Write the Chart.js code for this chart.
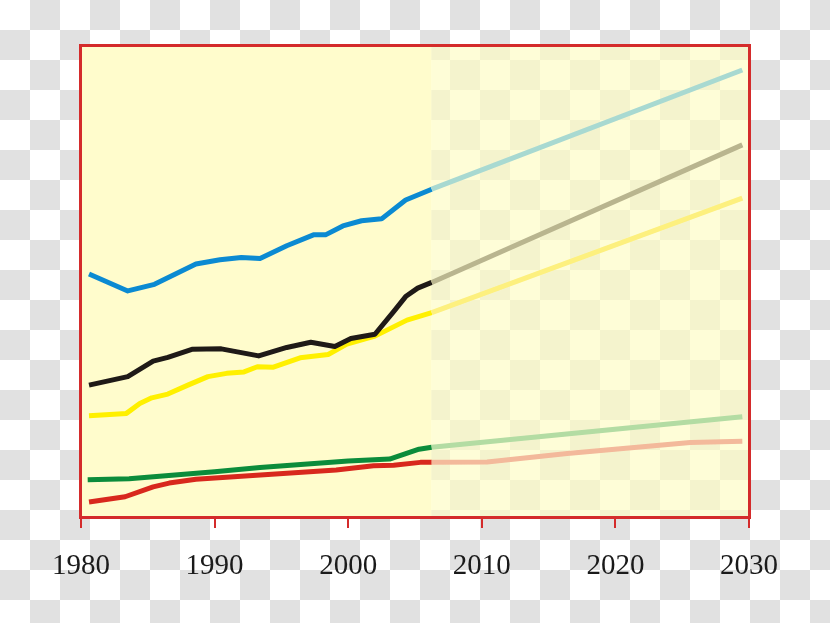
<!DOCTYPE html>
<html>
<head>
<meta charset="utf-8">
<script src="https://cdn.jsdelivr.net/npm/chart.js@4.4.1/dist/chart.umd.min.js"></script>
<style>
  html, body { margin: 0; padding: 0; }
  body {
    width: 830px; height: 623px; overflow: hidden;
    background: repeating-conic-gradient(#e1e1e1 0% 25%, #ffffff 0% 50%) 0 0 / 60px 60px;
  }
  #wrap { position: relative; width: 830px; height: 623px; }
</style>
</head>
<body>
<div id="wrap"><canvas id="c"></canvas></div>
<script>
// ---- data (index values, 0-100 scale; x = year) ----
const xTicks = [1980, 1990, 2000, 2010, 2020, 2030];
const splitYear = 2006.25;

const blueYears  = [1980.6, 1983.5, 1985.5, 1988.6, 1990.4, 1992.0, 1993.4, 1995.4, 1997.4, 1998.3, 1999.6, 2001.0, 2002.5, 2004.3, 2006.25];
const blueVals   = [51.6, 48.0, 49.4, 53.7, 54.6, 55.1, 54.9, 57.6, 59.9, 59.9, 61.8, 62.9, 63.3, 67.3, 69.6];

const blackYears = [1980.6, 1983.5, 1985.4, 1986.5, 1988.3, 1990.5, 1993.3, 1995.4, 1997.2, 1999.0, 2000.2, 2002.0, 2003.4, 2004.3, 2005.2, 2006.25];
const blackVals  = [28.0, 29.8, 33.1, 33.9, 35.6, 35.7, 34.2, 36.0, 37.1, 36.2, 37.9, 38.8, 43.6, 46.8, 48.6, 49.8];

const yellowYears = [1980.6, 1983.4, 1984.4, 1985.3, 1986.5, 1988.0, 1989.5, 1990.9, 1992.2, 1993.2, 1994.4, 1996.4, 1998.5, 1999.9, 2002.0, 2004.4, 2006.25];
const yellowVals  = [21.5, 22.0, 24.1, 25.3, 26.1, 28.0, 29.8, 30.5, 30.8, 31.9, 31.8, 33.8, 34.5, 36.7, 38.4, 41.8, 43.4];

const greenYears = [1980.5, 1983.6, 1990.0, 1993.4, 2000.0, 2003.1, 2005.3, 2006.25];
const greenVals  = [7.9, 8.1, 9.6, 10.5, 11.9, 12.3, 14.4, 14.8];

const redYears = [1980.6, 1983.3, 1985.4, 1986.6, 1988.6, 1999.1, 2001.9, 2003.4, 2005.4, 2006.25];
const redVals  = [3.2, 4.3, 6.4, 7.2, 8.0, 10.0, 10.9, 11.0, 11.6, 11.6];

// projections
const blueProjYears   = [2006.25, 2029.5];
const blueProjVals    = [69.6, 94.9];
const blackProjYears  = [2006.25, 2029.5];
const blackProjVals   = [49.8, 79.0];
const yellowProjYears = [2006.25, 2029.5];
const yellowProjVals  = [43.4, 67.7];
const greenProjYears  = [2006.25, 2029.5];
const greenProjVals   = [14.8, 21.3];
const redProjYears    = [2006.25, 2010.4, 2016.4, 2025.6, 2029.5];
const redProjVals     = [11.6, 11.7, 13.5, 15.8, 16.1];

function pts(xs, ys) { return xs.map((x, i) => ({ x: x, y: ys[i] })); }
function ds(xs, ys, color) {
  return { data: pts(xs, ys), borderColor: color, borderWidth: 5, pointRadius: 0,
           tension: 0, borderCapStyle: 'butt', borderJoinStyle: 'round', fill: false };
}

const bgPlugin = {
  id: 'bg',
  beforeDraw(chart) {
    const { ctx, chartArea: a, scales } = chart;
    const xs = scales.x.getPixelForValue(splitYear);
    ctx.save();
    ctx.fillStyle = '#fffccc';
    ctx.fillRect(a.left, a.top, xs - a.left, a.bottom - a.top);
    ctx.fillStyle = 'rgba(254,252,196,0.68)';
    ctx.fillRect(xs, a.top, a.right - xs, a.bottom - a.top);
    ctx.restore();
  },
  afterDraw(chart) {
    const { ctx, chartArea: a } = chart;
    ctx.save();
    ctx.strokeStyle = '#d42b2b';
    ctx.lineWidth = 3;
    ctx.strokeRect(a.left - 0.5, a.top - 0.5, a.right - a.left + 1, a.bottom - a.top + 1);
    ctx.restore();
  }
};

new Chart(document.getElementById('c'), {
  type: 'line',
  data: {
    datasets: [
      ds(blueProjYears, blueProjVals, '#a8d9d1'),
      ds(blackProjYears, blackProjVals, '#b9b58f'),
      ds(yellowProjYears, yellowProjVals, '#fdf07e'),
      ds(greenProjYears, greenProjVals, '#b3dca3'),
      ds(redProjYears, redProjVals, '#f3b99b'),
      ds(blueYears, blueVals, '#0b8ad2'),
      ds(blackYears, blackVals, '#1f1a17'),
      ds(yellowYears, yellowVals, '#fff000'),
      ds(greenYears, greenVals, '#0b8c3b'),
      ds(redYears, redVals, '#d8281d')
    ]
  },
  options: {
    responsive: true,
    maintainAspectRatio: false,
    animation: false,
    devicePixelRatio: 1,
    layout: { padding: { left: 81, right: 81, top: 46, bottom: 0 } },
    plugins: { legend: { display: false }, tooltip: { enabled: false } },
    scales: {
      x: {
        type: 'linear', min: 1980, max: 2030,
        afterBuildTicks(scale) { scale.ticks = xTicks.map(v => ({ value: v })); },
        afterFit(scale) { scale.height = 106; },
        grid: { drawOnChartArea: false, drawTicks: true, tickLength: 11, color: '#d42b2b', lineWidth: 2 },
        border: { display: false },
        ticks: {
          font: { family: 'Liberation Serif', size: 29 },
          color: '#1a1a1a', padding: 21, maxRotation: 0,
          callback: v => String(v)
        }
      },
      y: { display: false, min: 0, max: 100 }
    }
  },
  plugins: [bgPlugin]
});
</script>
</body>
</html>
